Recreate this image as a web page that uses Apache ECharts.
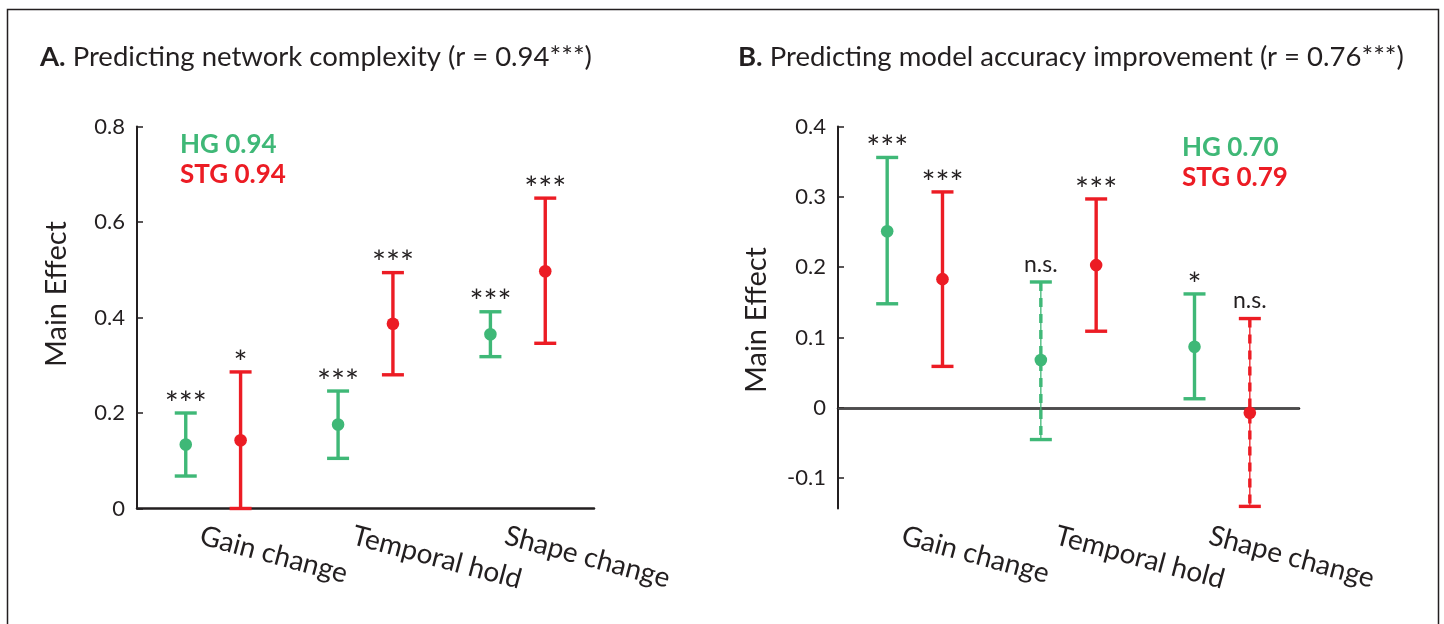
<!DOCTYPE html>
<html>
<head>
<meta charset="utf-8">
<script src="https://cdn.jsdelivr.net/npm/echarts@6/dist/echarts.min.js"></script>
<style>
html,body{margin:0;padding:0;background:#fff;}
#chart{width:1444px;height:624px;}
</style>
</head>
<body>
<div id="chart"></div>
<script>
// ---------------- DATA ----------------
const categories = ['Gain change', 'Temporal hold', 'Shape change'];

// Panel A: Predicting network complexity
const hgA_mean = [0.134, 0.176, 0.365];
const hgA_low  = [0.068, 0.105, 0.318];
const hgA_high = [0.200, 0.246, 0.412];
const hgA_sig  = ['***', '***', '***'];
const hgA_ns   = [false, false, false];

const stgA_mean = [0.143, 0.387, 0.497];
const stgA_low  = [0.000, 0.280, 0.346];
const stgA_high = [0.286, 0.494, 0.650];
const stgA_sig  = ['*', '***', '***'];
const stgA_ns   = [false, false, false];

// Panel B: Predicting model accuracy improvement
const hgB_mean = [0.251, 0.068, 0.087];
const hgB_low  = [0.148, -0.045, 0.013];
const hgB_high = [0.356, 0.179, 0.162];
const hgB_sig  = ['***', 'n.s.', '*'];
const hgB_ns   = [false, true, false];

const stgB_mean = [0.183, 0.203, -0.007];
const stgB_low  = [0.059, 0.109, -0.140];
const stgB_high = [0.307, 0.297, 0.127];
const stgB_sig  = ['***', '***', 'n.s.'];
const stgB_ns   = [false, false, true];

const titleA = 'Predicting network complexity (r = 0.94***)';
const titleB = 'Predicting model accuracy improvement (r = 0.76***)';
const legendA = ['HG 0.94', 'STG 0.94'];
const legendB = ['HG 0.70', 'STG 0.79'];
const yTitle = 'Main Effect';

// ---------------- STYLE ----------------
const GREEN = '#3fb877';
const RED = '#ec1c24';
const INK = '#231f20';
const FONT = 'Lato, "Open Sans", sans-serif';

function buildData(mean, low, high) {
  return mean.map((m, i) => [i, m, low[i], high[i]]);
}

function makeRender(offsetFrac, color, sig, ns) {
  return function (params, api) {
    const i = params.dataIndex;
    const cat = api.value(0);
    const band = api.size([1, 0])[0];
    const pM = api.coord([cat, api.value(1)]);
    const pL = api.coord([cat, api.value(2)]);
    const pH = api.coord([cat, api.value(3)]);
    const x = pM[0] + offsetFrac * band;
    const cap = 11;
    const children = [];
    if (ns[i]) {
      children.push({type: 'line', shape: {x1: x, y1: pL[1], x2: x, y2: pH[1]},
        style: {stroke: color, lineWidth: 1.3}});
      children.push({type: 'line', shape: {x1: x, y1: pH[1], x2: x, y2: pL[1]},
        style: {stroke: color, lineWidth: 3.4, lineDash: [9, 7]}});
    } else {
      children.push({type: 'line', shape: {x1: x, y1: pL[1], x2: x, y2: pH[1]},
        style: {stroke: color, lineWidth: 3.4}});
    }
    children.push({type: 'line', shape: {x1: x - cap, y1: pH[1], x2: x + cap, y2: pH[1]},
      style: {stroke: color, lineWidth: 3.4}});
    children.push({type: 'line', shape: {x1: x - cap, y1: pL[1], x2: x + cap, y2: pL[1]},
      style: {stroke: color, lineWidth: 3.4}});
    children.push({type: 'circle', shape: {cx: x, cy: pM[1], r: 6.3},
      style: {fill: color}});
    const isStar = sig[i].indexOf('*') >= 0;
    if (isStar) {
      children.push({type: 'text', style: {
        x: x, y: pH[1] - 9, text: sig[i], fill: INK,
        font: '33px ' + FONT, textAlign: 'center', textVerticalAlign: 'middle'}});
    } else {
      children.push({type: 'text', style: {
        x: x, y: pH[1] - 6, text: sig[i], fill: INK,
        font: '23px ' + FONT, textAlign: 'center', textVerticalAlign: 'bottom'}});
    }
    return {type: 'group', children: children};
  };
}

const chart = echarts.init(document.getElementById('chart'));

function xAxisCfg(gi) {
  return {
    type: 'category', gridIndex: gi, data: categories, boundaryGap: true,
    axisLine: {lineStyle: {color: INK, width: 2.5}},
    axisTick: {alignWithLabel: true, inside: true, length: 6, lineStyle: {color: INK, width: 1.5}},
    axisLabel: {rotate: -15, color: INK, fontSize: 28, fontFamily: FONT, margin: 30,
      padding: [0, 0, 0, -13]},
    splitLine: {show: false}
  };
}
function yAxisCfg(gi, min, max) {
  return {
    type: 'value', gridIndex: gi, min: min, max: max, splitNumber: 5,
    axisLine: {show: true, lineStyle: {color: INK, width: 2}},
    axisTick: {show: true, inside: true, length: 6, lineStyle: {color: INK, width: 1.5}},
    axisLabel: {color: INK, fontSize: 22, fontFamily: FONT, margin: 12, showMinLabel: min === 0,
      formatter: function (v) { return (Math.abs(Math.round(v * 10) - v * 10) < 1e-6) ? String(Math.round(v * 10) / 10) : ''; }},
    splitLine: {show: false}
  };
}

function titleCfg(letter, text, left) {
  return {text: '{b|' + letter + '} ' + text, left: left, top: 43, padding: 0,
    textStyle: {fontSize: 27.5, fontWeight: 'normal', color: INK, fontFamily: FONT,
      rich: {b: {fontSize: 27.5, fontWeight: 'bold', color: INK, fontFamily: FONT}}}};
}

const option = {
  backgroundColor: '#fff',
  animation: false,
  title: [titleCfg('A.', titleA, 40), titleCfg('B.', titleB, 738)],
  graphic: [
    {type: 'rect', silent: true, shape: {x: 7.5, y: 9.5, width: 1431, height: 640},
      style: {fill: 'none', stroke: INK, lineWidth: 1.5}},
    {type: 'text', left: 180, top: 132, style: {text: legendA[0], fill: GREEN, font: 'bold 26px ' + FONT}},
    {type: 'text', left: 180, top: 162, style: {text: legendA[1], fill: RED, font: 'bold 26px ' + FONT}},
    {type: 'text', left: 1182, top: 135, style: {text: legendB[0], fill: GREEN, font: 'bold 26px ' + FONT}},
    {type: 'text', left: 1182, top: 165, style: {text: legendB[1], fill: RED, font: 'bold 26px ' + FONT}},
    {type: 'text', x: 57, y: 294, rotation: Math.PI / 2,
      style: {text: yTitle, fill: INK, font: '29px ' + FONT, textAlign: 'center', textVerticalAlign: 'middle'}},
    {type: 'text', x: 757, y: 320, rotation: Math.PI / 2,
      style: {text: yTitle, fill: INK, font: '29px ' + FONT, textAlign: 'center', textVerticalAlign: 'middle'}}
  ],
  grid: [
    {left: 137, top: 126.5, width: 457, height: 382},
    {left: 838, top: 126.5, width: 461, height: 382}
  ],
  xAxis: [xAxisCfg(0), xAxisCfg(1)],
  yAxis: [yAxisCfg(0, 0, 0.8), yAxisCfg(1, -0.143, 0.4)],
  series: [
    {type: 'custom', name: 'HG', xAxisIndex: 0, yAxisIndex: 0, encode: {x: 0, y: [1, 2, 3]},
      data: buildData(hgA_mean, hgA_low, hgA_high), renderItem: makeRender(-0.18, GREEN, hgA_sig, hgA_ns)},
    {type: 'custom', name: 'STG', xAxisIndex: 0, yAxisIndex: 0, encode: {x: 0, y: [1, 2, 3]},
      data: buildData(stgA_mean, stgA_low, stgA_high), renderItem: makeRender(0.18, RED, stgA_sig, stgA_ns)},
    {type: 'custom', name: 'HG', xAxisIndex: 1, yAxisIndex: 1, encode: {x: 0, y: [1, 2, 3]}, z: 3,
      data: buildData(hgB_mean, hgB_low, hgB_high), renderItem: makeRender(-0.18, GREEN, hgB_sig, hgB_ns),
      markLine: {silent: true, symbol: ['none', 'none'], label: {show: false},
        lineStyle: {color: '#4d4d4d', width: 1.4, type: 'solid'}, data: [{yAxis: 0}], z: 1}},
    {type: 'custom', name: 'STG', xAxisIndex: 1, yAxisIndex: 1, encode: {x: 0, y: [1, 2, 3]}, z: 3,
      data: buildData(stgB_mean, stgB_low, stgB_high), renderItem: makeRender(0.18, RED, stgB_sig, stgB_ns)}
  ]
};
chart.setOption(option);
</script>
</body>
</html>
